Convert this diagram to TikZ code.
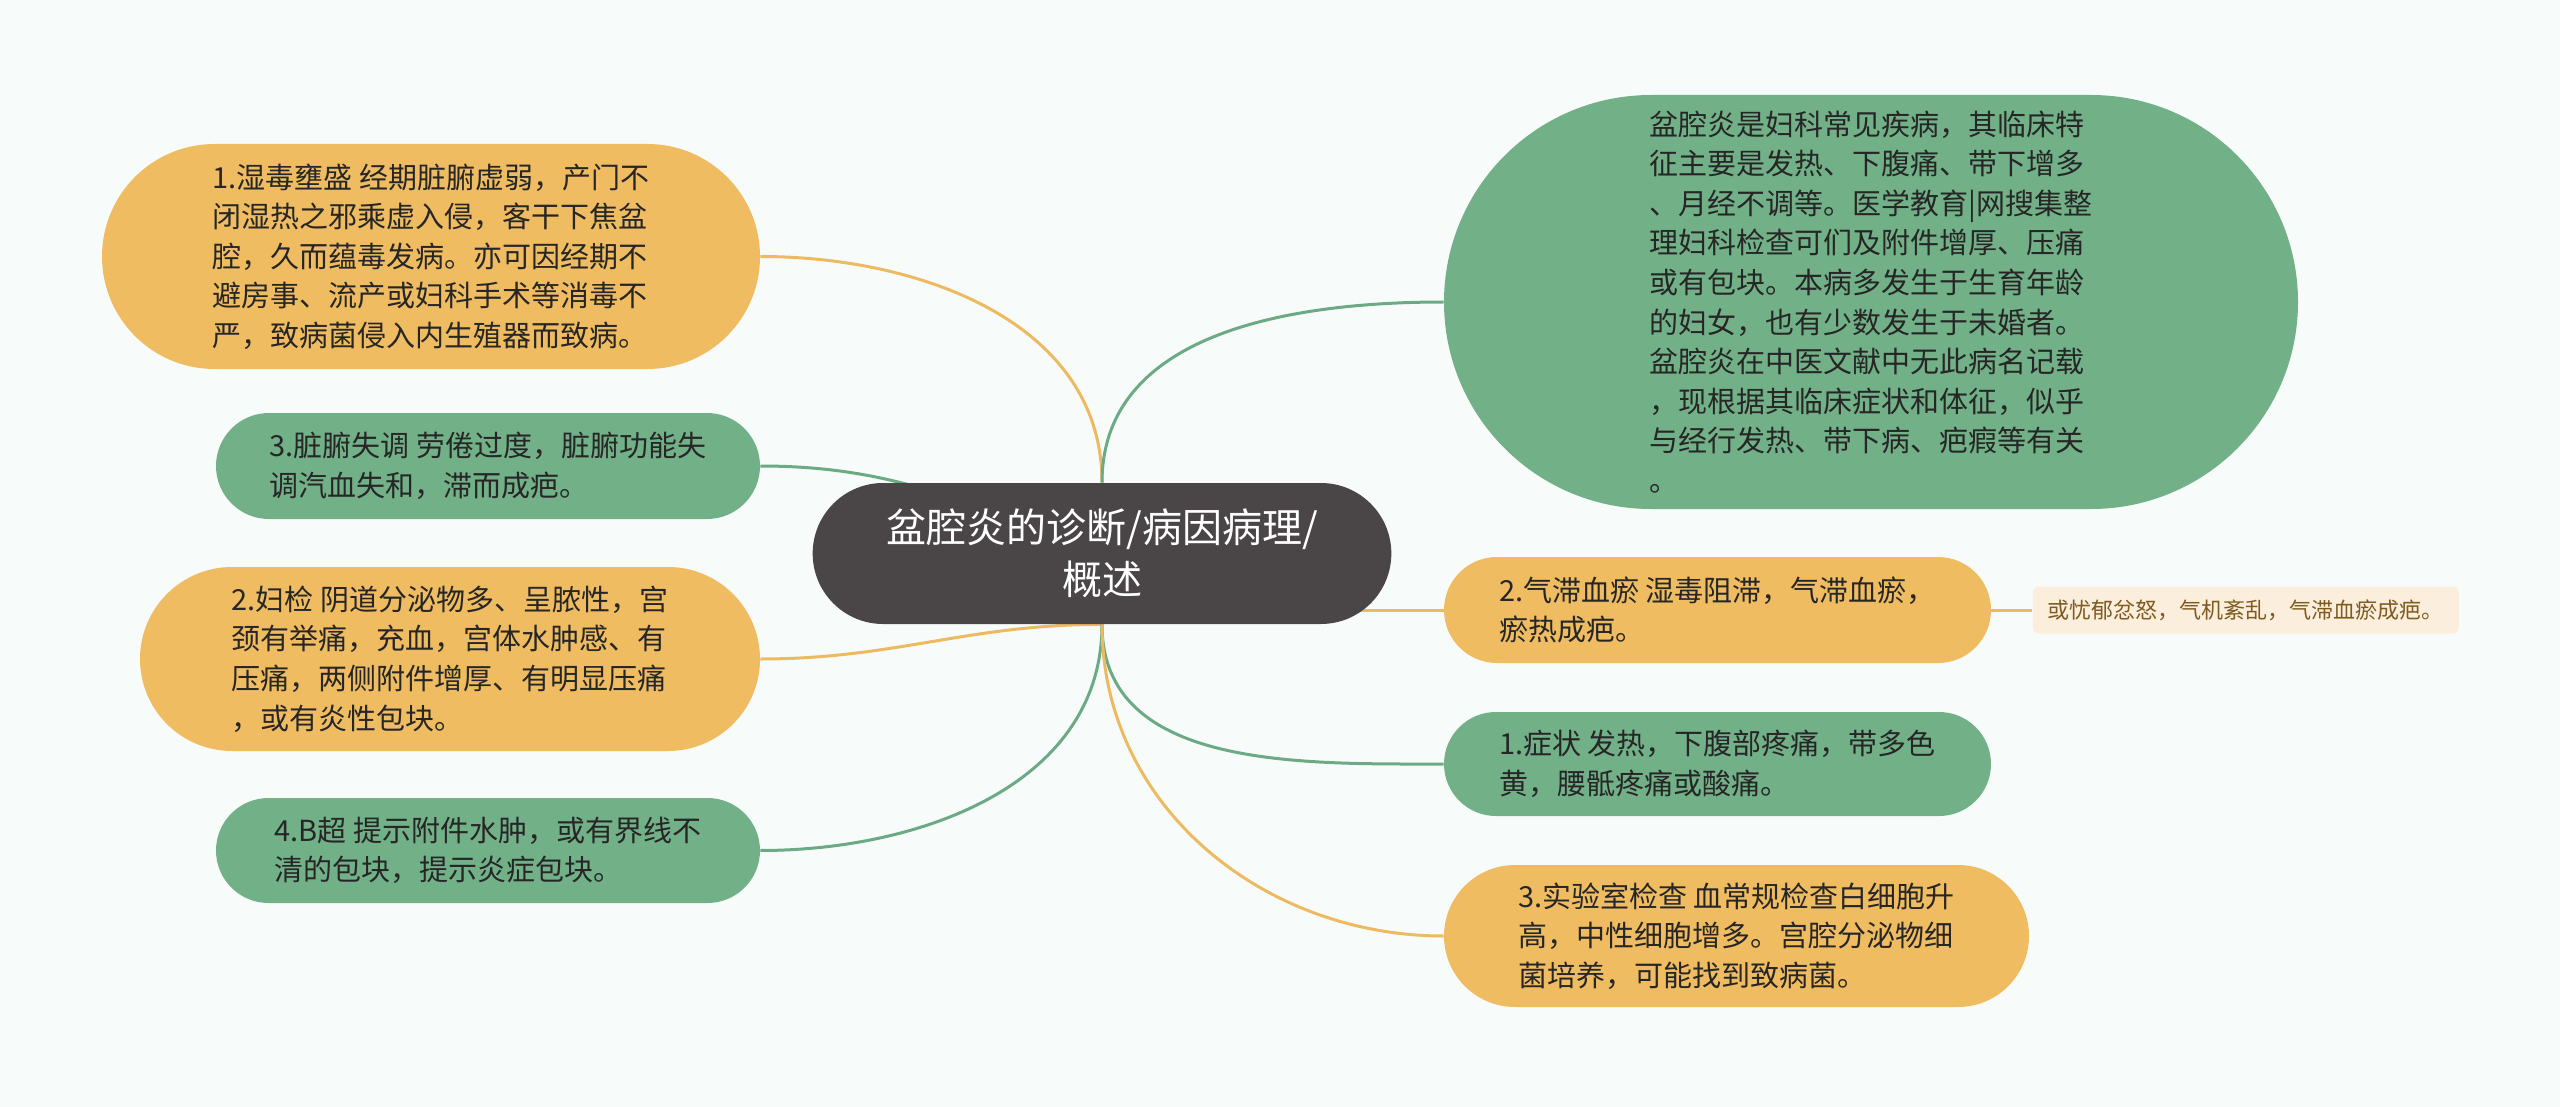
\documentclass[tikz,border=0pt]{standalone}
\usepackage{fontspec}
\setmainfont{Noto Sans CJK SC}
\usetikzlibrary{positioning,shapes.misc,backgrounds}
\definecolor{bgcol}{HTML}{F7FCFA}
\definecolor{orng}{HTML}{F0BC62}
\definecolor{grn}{HTML}{72B088}
\definecolor{rootcol}{HTML}{4A4546}
\definecolor{orngline}{HTML}{EDBA62}
\definecolor{grnline}{HTML}{6BAA84}
\definecolor{leaf}{HTML}{FCEEDC}
\definecolor{leaftext}{HTML}{7D5B1E}
\definecolor{txt}{HTML}{262626}
\begin{document}
\begin{tikzpicture}[x=0.5pt, y=0.5pt,
    topic/.style={rounded rectangle, align=left, text=txt, inner sep=2pt,
      font=\fontsize{14.5}{19.8}\selectfont},
    orangebox/.style={topic, fill=orng},
    greenbox/.style={topic, fill=grn},
    orangeline/.style={draw=orngline, line width=1.5pt},
    greenline/.style={draw=grnline, line width=1.5pt}]
        \node (root) [rounded rectangle, fill=rootcol, text=white, align=center,
          minimum width=296pt, minimum height=70.5pt,
          font=\fontsize{20}{26}\selectfont] at (1102,-553.5)
          {盆腔炎的诊断/病因病理/\\概述};

        \node (wet) [orangebox, minimum width=333pt, minimum height=112.5pt] at (431,-256.5)
          {1.湿毒壅盛 经期脏腑虚弱，产门不\\闭湿热之邪乘虚入侵，客干下焦盆\\腔，久而蕴毒发病。亦可因经期不\\避房事、流产或妇科手术等消毒不\\严，致病菌侵入内生殖器而致病。};
        \node (organ) [greenbox, minimum width=276pt, minimum height=53pt] at (488,-466)
          {3.脏腑失调 劳倦过度，脏腑功能失\\调汽血失和，滞而成疤。};
        \node (gyn) [orangebox, minimum width=314pt, minimum height=92pt] at (450,-659)
          {2.妇检 阴道分泌物多、呈脓性，宫\\颈有举痛，充血，宫体水肿感、有\\压痛，两侧附件增厚、有明显压痛\\，或有炎性包块。};
        \node (bus) [greenbox, minimum width=276pt, minimum height=52.5pt] at (488,-850.5)
          {4.B超 提示附件水肿，或有界线不\\清的包块，提示炎症包块。};

        \node (intro) [greenbox, minimum width=431pt, minimum height=207pt] at (1871,-302)
          {盆腔炎是妇科常见疾病，其临床特\\征主要是发热、下腹痛、带下增多\\、月经不调等。医学教育|网搜集整\\理妇科检查可们及附件增厚、压痛\\或有包块。本病多发生于生育年龄\\的妇女，也有少数发生于未婚者。\\盆腔炎在中医文献中无此病名记载\\，现根据其临床症状和体征，似乎\\与经行发热、带下病、疤瘕等有关\\。};
        \node (qi) [orangebox, minimum width=277.5pt, minimum height=53pt] at (1717.5,-610)
          {2.气滞血瘀 湿毒阻滞，气滞血瘀，\\瘀热成疤。};
        \node (qinote) [right=20.5pt of qi, fill=leaf, text=leaftext, rounded corners=3pt,
          minimum width=213pt, minimum height=23.5pt, inner sep=2pt,
          font=\fontsize{11}{13}\selectfont]
          {或忧郁忿怒，气机紊乱，气滞血瘀成疤。};
        \node (sym) [greenbox, minimum width=277.5pt, minimum height=52pt] at (1717.5,-764)
          {1.症状 发热，下腹部疼痛，带多色\\黄，腰骶疼痛或酸痛。};
        \node (lab) [orangebox, minimum width=296.5pt, minimum height=71pt] at (1736.5,-936)
          {3.实验室检查 血常规检查白细胞升\\高，中性细胞增多。宫腔分泌物细\\菌培养，可能找到致病菌。};

        \begin{scope}[on background layer]
        \fill[bgcol] (0,0) rectangle (2560,-1107);
        \draw[orangeline] (root.north) to[out=90, in=0] (wet.east);
        \draw[greenline] (root.center) to[out=160, in=0] (organ.east);
        \draw[orangeline] (root.south) to[out=180, in=0] (gyn.east);
        \draw[greenline] (root.south) to[out=-90, in=0] (bus.east);
        \draw[greenline] (root.north) to[out=90, in=180] (intro.west);
        \draw[orangeline] (root |- qi.west) -- (qi.west);
        \draw[orangeline] (qi.east) -- (qinote.west);
        \draw[greenline] (root.south) to[out=-90, in=180] (sym.west);
        \draw[orangeline] (root.south) to[out=-90, in=180] (lab.west);
        \end{scope}
\end{tikzpicture}
\end{document}
